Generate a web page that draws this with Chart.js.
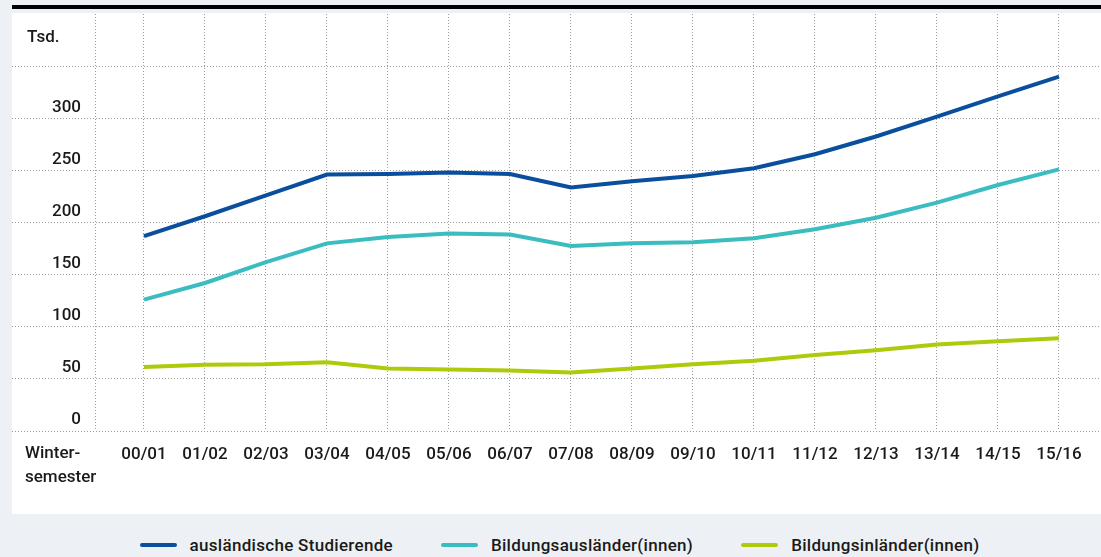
<!DOCTYPE html>
<html lang="de">
<head>
<meta charset="utf-8">
<script src="https://cdn.jsdelivr.net/npm/chart.js@4.4.1/dist/chart.umd.min.js"></script>
<style>
  body {
    margin: 0;
    width: 1101px;
    height: 557px;
    position: relative;
    overflow: hidden;
    background: #edf1f5;
    font-family: Roboto, "Noto Sans", sans-serif;
    color: #1a1a1a;
  }
  .top-rule { position: absolute; left: 12px; right: 0; top: 5px; height: 4px; background: #000; }
  .panel { position: absolute; left: 12px; top: 13px; width: 1089px; height: 501px; background: #fff; }
  .panel canvas { position: absolute; left: 0; top: 0; }
  .unit { position: absolute; left: 15px; top: 13px; font-size: 17px; line-height: 20px; font-weight: 500; }
  .axis-caption { position: absolute; left: 13px; top: 427px; font-size: 17px; line-height: 24px; font-weight: 500; }
  .legend {
    position: absolute; left: 12px; width: 1089px; top: 535px;
    display: flex; justify-content: center; padding-left: 6px; box-sizing: border-box;
    font-size: 17px; line-height: 20px; letter-spacing: 0.3px; font-weight: 500;
  }
  .legend-item { display: flex; align-items: center; margin: 0 24px; }
  .legend-line { width: 37px; height: 4px; border-radius: 2px; margin-right: 13px; }
</style>
</head>
<body>
<div class="top-rule"></div>
<div class="panel">
  <canvas id="chart" width="1089" height="501"></canvas>
  <div class="unit">Tsd.</div>
  <div class="axis-caption">Winter-<br>semester</div>
</div>
<div class="legend" id="legend"></div>

<script>
// Wintersemester 2000/01 bis 2015/16, Angaben in Tausend
const semesters = ["00/01", "01/02", "02/03", "03/04", "04/05", "05/06", "06/07", "07/08",
                   "08/09", "09/10", "10/11", "11/12", "12/13", "13/14", "14/15", "15/16"];
const auslaendische = [187, 206, 226, 246, 246.5, 248, 246.5, 233.5, 239.5, 244.5, 252, 265.5, 282.5, 301.5, 321, 340];
const bildungsauslaender = [126, 142, 162, 180, 186, 189.5, 188.5, 177.5, 180, 181, 185, 193.5, 204.5, 219, 236, 251];
const bildungsinlaender = [61.5, 63.5, 64, 66, 60, 59, 58, 56, 60, 64, 67.5, 73, 77.5, 83, 86, 89];
const yTicks = [0, 50, 100, 150, 200, 250, 300, 350, 400];

const series = [
    { label: "ausländische Studierende", values: auslaendische, color: "#0a4f9d" },
    { label: "Bildungsausländer(innen)", values: bildungsauslaender, color: "#3bbcc0" },
    { label: "Bildungsinländer(innen)", values: bildungsinlaender, color: "#afca0b" },
];

// extra vertical rule left of the first semester
const SEPARATOR = -0.803;
const GRID = "#9c9c9c";

document.getElementById("legend").innerHTML = series.map((s) => `
    <span class="legend-item">
      <span class="legend-line" style="background:${s.color}"></span>${s.label}
    </span>`).join("");

Chart.defaults.font.family = 'Roboto, "Noto Sans", sans-serif';
Chart.defaults.font.size = 17;
Chart.defaults.font.weight = 500;
Chart.defaults.color = "#1a1a1a";

new Chart(document.getElementById("chart"), {
    type: "line",
    data: {
        datasets: series.map((s) => ({
            label: s.label,
            data: s.values.map((v, i) => ({ x: i, y: v })),
            borderColor: s.color,
            backgroundColor: s.color,
            borderWidth: 4,
            pointRadius: 0,
            tension: 0,
        })),
    },
    options: {
        responsive: false,
        animation: false,
        devicePixelRatio: 1,
        layout: { padding: { top: 1 } },
        plugins: { legend: { display: false }, tooltip: { enabled: false } },
        scales: {
            x: {
                type: "linear",
                min: -2.1639,
                max: 15.689,
                afterBuildTicks: (scale) => {
                    scale.ticks = [SEPARATOR, ...semesters.map((_, i) => i)].map((value) => ({ value }));
                },
                afterFit: (scale) => {
                    scale.height = 83;
                    scale.paddingLeft = 0;
                    scale.paddingRight = 0;
                },
                border: { display: false, dash: [1, 2] },
                grid: { color: GRID, drawTicks: false },
                ticks: {
                    autoSkip: false,
                    maxRotation: 0,
                    padding: 14,
                    callback: (value) => (Number.isInteger(value) ? semesters[value] : ""),
                },
            },
            y: {
                min: 0,
                max: 400,
                afterBuildTicks: (scale) => {
                    scale.ticks = yTicks.map((value) => ({ value }));
                },
                afterFit: (scale) => {
                    scale.width = 0;
                    scale.paddingTop = 0;
                    scale.paddingBottom = 0;
                },
                border: { display: false, dash: [1, 2] },
                grid: {
                    color: (ctx) => (ctx.tick && ctx.tick.value === 400 ? "rgba(0,0,0,0)" : GRID),
                    drawTicks: false,
                },
                ticks: {
                    mirror: true,
                    crossAlign: "far",
                    padding: 40,
                    labelOffset: -11,
                    callback: (value) => (value <= 300 ? String(value) : ""),
                },
            },
        },
    },
});
</script>
</body>
</html>
